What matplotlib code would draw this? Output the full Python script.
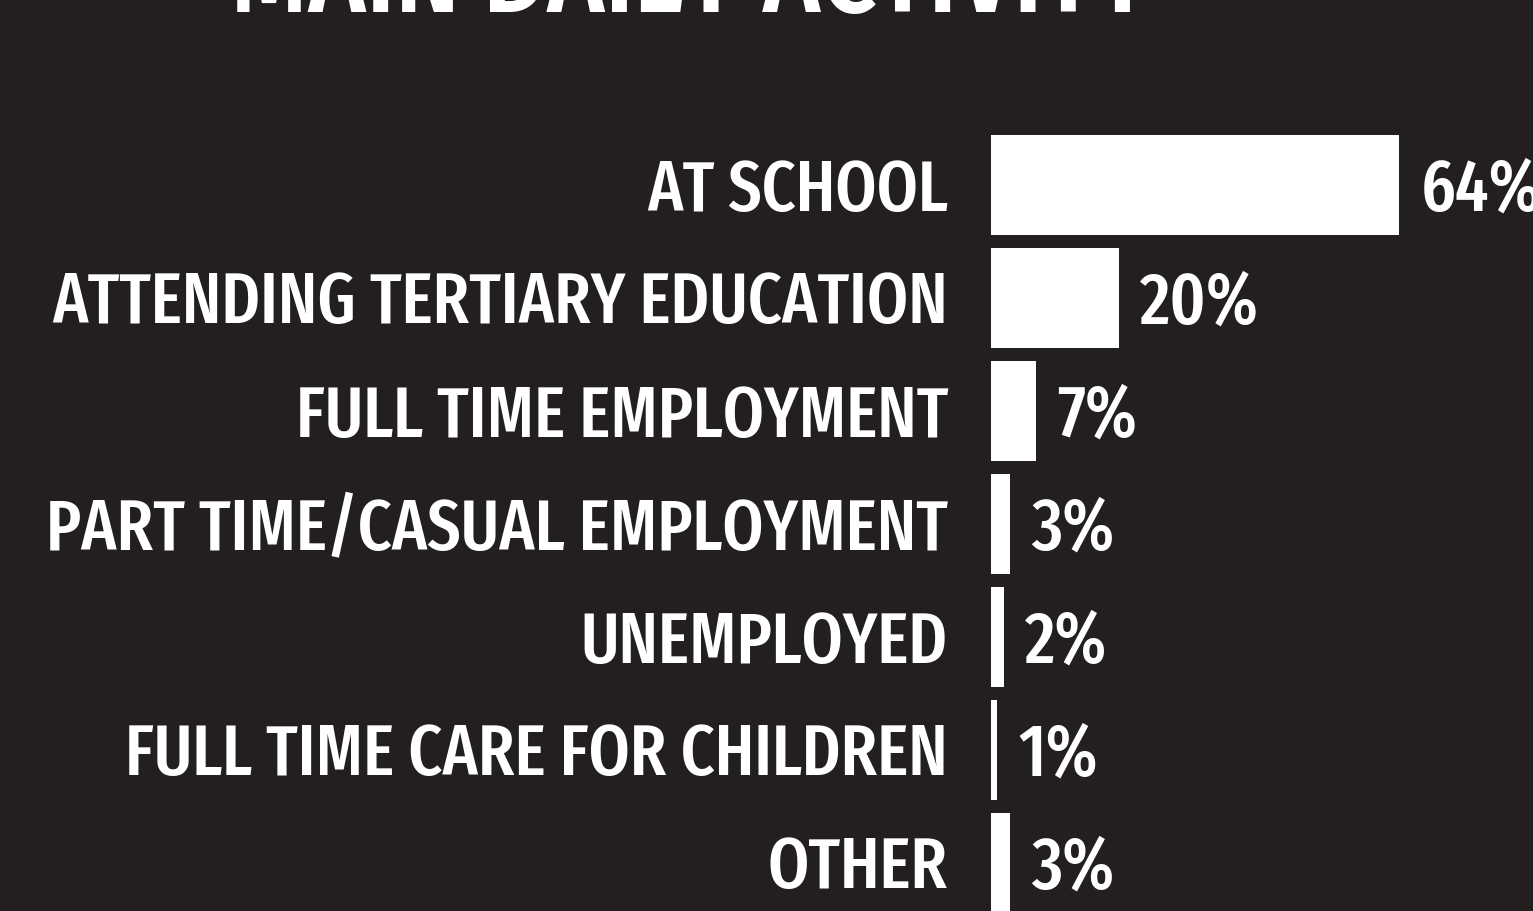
import matplotlib
matplotlib.use("Agg")
import matplotlib.pyplot as plt

categories = ["AT SCHOOL", "ATTENDING TERTIARY EDUCATION", "FULL TIME EMPLOYMENT",
              "PART TIME/CASUAL EMPLOYMENT", "UNEMPLOYED", "FULL TIME CARE FOR CHILDREN", "OTHER"]
values = [64, 20, 7, 3, 2, 1, 3]
value_labels = ["64%", "20%", "7%", "3%", "2%", "1%", "3%"]
title = "MAIN DAILY ACTIVITY"

BG = "#231f20"
W, H = 1533, 912
DPI = 100
PT = 72 / DPI
FONT = ["Fira Sans Extra Condensed", "Barlow Condensed", "DejaVu Sans"]
WEIGHT = 500

fig = plt.figure(figsize=(W / DPI, H / DPI), dpi=DPI, facecolor=BG)
renderer = fig.canvas.get_renderer()


def fit_size(text, target_px, base=50):
    t = fig.text(0, 0, text, fontsize=base, family=FONT, fontweight=WEIGHT)
    w = t.get_window_extent(renderer).width
    t.remove()
    return base * target_px / w


label_size = fit_size("PART TIME/CASUAL EMPLOYMENT", 900)
value_size = fit_size("20%", 119)
title_size = fit_size(title, 920)

ax = fig.add_axes([991 / W, 0, 1 - 991 / W, 1])
ax.set_facecolor(BG)

px_per_unit = 6.38
ax.set_xlim(0, (W - 991) / px_per_unit)
pitch = 113.0
ax.set_ylim((H - 186) / pitch, -186 / pitch)

ys = list(range(len(categories)))
ax.barh(ys, values, height=100 / pitch, color="white", align="center")

for y, v, lab, cat in zip(ys, values, value_labels, categories):
    ax.annotate(lab, (v, y), xytext=(21 * PT, -25 * PT), textcoords="offset points",
                ha="left", va="baseline", color="white", fontsize=value_size,
                family=FONT, fontweight=WEIGHT, annotation_clip=False)
    ax.annotate(cat, (0, y), xytext=(-43 * PT, -24.5 * PT), textcoords="offset points",
                ha="right", va="baseline", color="white", fontsize=label_size,
                family=FONT, fontweight=WEIGHT, annotation_clip=False)

ax.set_yticks([])
ax.set_xticks([])
for s in ax.spines.values():
    s.set_visible(False)

fig.text(690 / W, 1 - 12 / H, title, ha="center", va="baseline", color="white",
         fontsize=title_size, family=FONT, fontweight=WEIGHT)

fig.savefig("out.png", dpi=DPI, facecolor=BG)
